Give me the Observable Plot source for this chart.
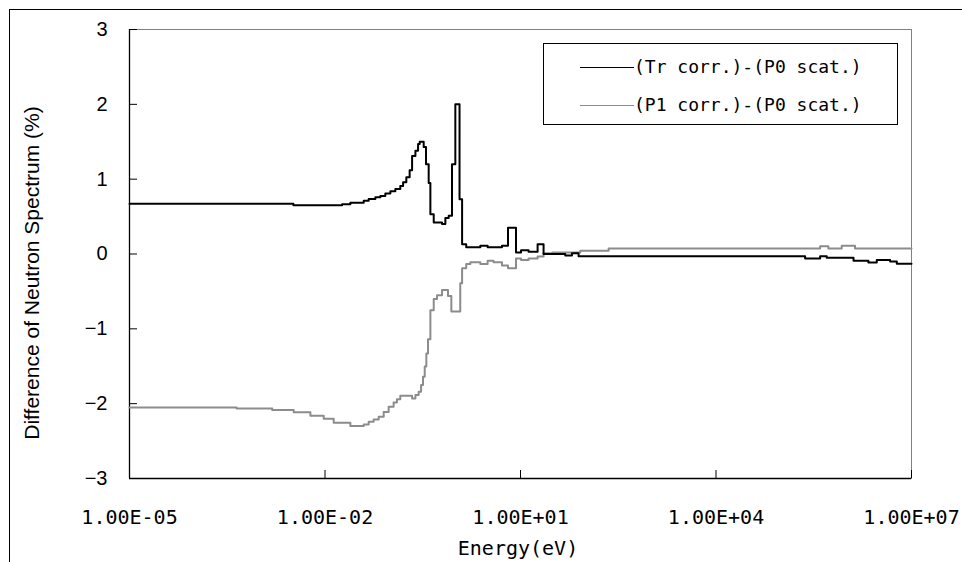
<!DOCTYPE html>
<html><head><meta charset="utf-8">
<script src="https://cdn.jsdelivr.net/npm/d3@7"></script>
<script src="https://cdn.jsdelivr.net/npm/@observablehq/plot@0.6"></script>
<style>
html,body{margin:0;padding:0;background:#fff;overflow:hidden;}
#wrap{position:relative;width:962px;height:562px;overflow:hidden;}
#border{position:absolute;left:9px;top:9px;width:1100px;height:700px;border:1px solid #000;}
#chart{position:absolute;left:0;top:0;}
#legend{position:absolute;left:543px;top:43px;width:353px;height:80px;border:1px solid #000;background:#fff;font-family:"DejaVu Sans Mono";font-size:18px;color:#000;}
.sw{position:absolute;left:36px;width:54px;height:0;}
.lt{position:absolute;left:90px;line-height:20px;white-space:nowrap;}
#ytitle{position:absolute;left:32px;top:273px;transform:translate(-50%,-50%) rotate(-90deg);font-family:"Liberation Sans";font-size:21px;white-space:nowrap;}
#xtitle{position:absolute;left:518px;top:548px;transform:translate(-50%,-50%);font-family:"DejaVu Sans Mono";font-size:20px;white-space:nowrap;}
</style></head><body>
<div id="wrap"><div id="border"></div><div id="chart"></div><div id="legend"></div><div id="ytitle"></div><div id="xtitle"></div></div>
<script>
const seriesNames = ["(Tr corr.)-(P0 scat.)", "(P1 corr.)-(P0 scat.)"];
const seriesColors = ["#000000", "#8c8c8c"];
const xTitle = "Energy(eV)";
const yTitle = "Difference of Neutron Spectrum (%)";
const eMax = 1e7;

// (Tr corr.)-(P0 scat.): group lower energies (eV) and step values (%)
const trE = [1e-5, 3.27e-3, 1.83e-2, 2.45e-2, 3.93e-2, 4.68e-2, 5.93e-2, 7.08e-2, 8.43e-2, 0.1007, 0.120, 0.143, 0.158, 0.177, 0.199, 0.217, 0.244, 0.268, 0.284, 0.327, 0.355, 0.390, 0.414, 0.466, 0.625, 0.703, 0.791, 0.889, 1.0, 1.16, 1.27, 1.47, 2.42, 3.13, 5.20, 6.43, 8.53, 10.2, 13.3, 18.3, 22.6, 48.6, 61.6, 77.8, 2.33e5, 3.96e5, 5.0e5, 1.29e6, 2.18e6, 2.93e6, 4.7e6, 5.95e6];
const trV = [0.67, 0.65, 0.665, 0.685, 0.71, 0.735, 0.76, 0.775, 0.81, 0.84, 0.87, 0.91, 0.96, 1.025, 1.12, 1.31, 1.38, 1.47, 1.50, 1.43, 1.20, 0.95, 0.53, 0.42, 0.40, 0.48, 0.51, 1.20, 2.00, 0.73, 0.13, 0.09, 0.11, 0.09, 0.11, 0.35, 0.02, 0.05, 0.03, 0.13, 0.0, -0.02, 0.01, -0.03, -0.06, -0.03, -0.05, -0.09, -0.115, -0.08, -0.10, -0.13];

// (P1 corr.)-(P0 scat.)
const p1E = [1e-5, 4.4e-4, 1.55e-3, 3.31e-3, 5.97e-3, 9.55e-3, 1.36e-2, 2.45e-2, 3.93e-2, 4.68e-2, 5.58e-2, 6.66e-2, 7.95e-2, 9.48e-2, 0.113, 0.127, 0.143, 0.217, 0.244, 0.274, 0.298, 0.319, 0.339, 0.359, 0.381, 0.414, 0.466, 0.524, 0.625, 0.772, 0.869, 1.19, 1.27, 1.47, 1.70, 2.42, 3.13, 3.87, 5.20, 6.43, 8.53, 10.2, 13.3, 18.3, 22.6, 30.8, 82.6, 225, 3.96e5, 5.3e5, 8.5e5, 1.36e6];
const p1V = [-2.05, -2.065, -2.085, -2.115, -2.16, -2.20, -2.255, -2.30, -2.28, -2.24, -2.21, -2.175, -2.11, -2.04, -1.985, -1.94, -1.895, -1.93, -1.885, -1.84, -1.75, -1.64, -1.505, -1.33, -1.14, -0.75, -0.60, -0.55, -0.48, -0.56, -0.77, -0.39, -0.19, -0.135, -0.11, -0.135, -0.09, -0.11, -0.155, -0.19, -0.06, -0.08, -0.06, -0.035, 0.01, 0.02, 0.045, 0.075, 0.105, 0.075, 0.11, 0.075];

const xTicks = [1e-5, 1e-2, 1e1, 1e4, 1e7];
const xTickLabels = ["1.00E-05", "1.00E-02", "1.00E+01", "1.00E+04", "1.00E+07"];
const yTicks = [-3, -2, -1, 0, 1, 2, 3];

function rows(E, V, s) {
  const r = E.map((e, i) => ({E: e, v: V[i], s}));
  r.push({E: eMax, v: V[V.length - 1], s});
  return r;
}
const trRows = rows(trE, trV, seriesNames[0]);
const p1Rows = rows(p1E, p1V, seriesNames[1]);

const chart = Plot.plot({
  width: 962, height: 562,
  marginLeft: 129, marginRight: 51, marginTop: 29, marginBottom: 84,
  style: {background: "transparent", overflow: "visible"},
  x: {type: "log", domain: [1e-5, 1e7]},
  y: {domain: [-3, 3]},
  marks: [
    Plot.frame({stroke: "#808080"}),
    Plot.ruleY([-3], {stroke: "#000", strokeWidth: 1.3}),
    Plot.ruleX([1e-5], {stroke: "#000", strokeWidth: 1.3}),
    Plot.axisY({ticks: yTicks, tickSize: 0, tickPadding: 22, fontSize: 20, fontFamily: "Liberation Sans", label: null, tickFormat: d => d < 0 ? "\u2212" + Math.abs(d) : String(d), fill: "#000"}),
    Plot.axisY({ticks: yTicks, tickSize: 8, dx: 8, tickFormat: () => "", label: null, stroke: "#000"}),
    Plot.axisX({ticks: xTicks, tickSize: 0, tickPadding: 31, fontSize: 20, fontFamily: "DejaVu Sans Mono", label: null, tickFormat: d => xTickLabels[xTicks.indexOf(d)], fill: "#000"}),
    Plot.axisX({ticks: xTicks, tickSize: 8, dy: -8, tickFormat: () => "", label: null, stroke: "#000"}),
    Plot.line(p1Rows, {x: "E", y: "v", curve: "step-after", stroke: seriesColors[1], strokeWidth: 2}),
    Plot.line(trRows, {x: "E", y: "v", curve: "step-after", stroke: seriesColors[0], strokeWidth: 2})
  ]
});
document.getElementById("chart").appendChild(chart);

const leg = document.getElementById("legend");
seriesNames.forEach((n, i) => {
  const cy = i === 0 ? 24 : 62;
  const sw = document.createElement("div");
  sw.className = "sw";
  sw.style.top = (cy - 1) + "px";
  sw.style.borderTop = "1.5px solid " + seriesColors[i];
  leg.appendChild(sw);
  const t = document.createElement("div");
  t.className = "lt";
  t.style.top = (cy - 11) + "px";
  t.textContent = n;
  leg.appendChild(t);
});
document.getElementById("ytitle").textContent = yTitle;
document.getElementById("xtitle").textContent = xTitle;
</script>
</body></html>
